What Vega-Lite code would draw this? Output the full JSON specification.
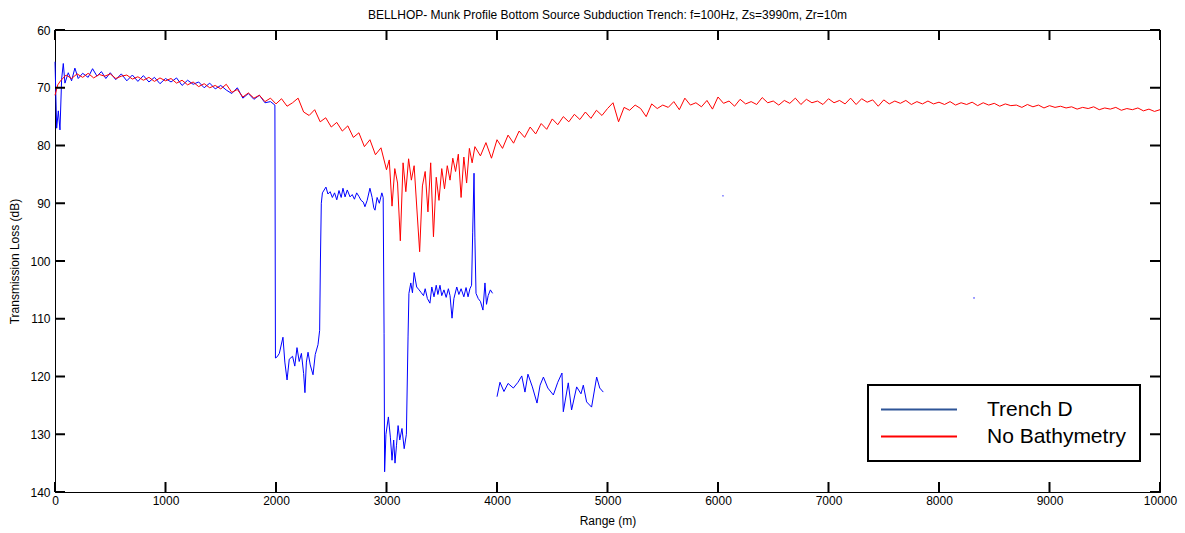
{
  "$schema": "https://vega.github.io/schema/vega-lite/v6.json",
  "width": 1105,
  "height": 462,
  "autosize": "none",
  "padding": {"left": 55, "top": 30, "right": 25, "bottom": 41},
  "background": "white",
  "title": {
    "text": "BELLHOP- Munk Profile Bottom Source Subduction Trench: f=100Hz, Zs=3990m, Zr=10m",
    "fontSize": 12, "fontWeight": "normal", "color": "#000", "offset": 2, "anchor": "middle"
  },
  "config": {
    "font": "Liberation Sans",
    "view": {"stroke": "#000", "strokeWidth": 1},
    "axis": {
      "domainColor": "#000", "labelColor": "#000", "titleColor": "#000",
      "labelFontSize": 12, "titleFontSize": 12, "titleFontWeight": "normal",
      "labelFlush": false, "labelOverlap": false, "ticks": false, "grid": false
    }
  },
  "datasets": {
    "xTicks": [
      {"range": 0}, {"range": 1000}, {"range": 2000}, {"range": 3000}, {"range": 4000}, {"range": 5000},
      {"range": 6000}, {"range": 7000}, {"range": 8000}, {"range": 9000}, {"range": 10000}
    ],
    "yTicks": [
      {"loss": 60}, {"loss": 70}, {"loss": 80}, {"loss": 90}, {"loss": 100}, {"loss": 110}, {"loss": 120}, {"loss": 130}, {"loss": 140}
    ],
    "trench": [
      {"segment": 1, "range": 0, "loss": 65.5}, {"segment": 1, "range": 15, "loss": 77.0}, {"segment": 1, "range": 30, "loss": 74.0},
      {"segment": 1, "range": 45, "loss": 77.3}, {"segment": 1, "range": 60, "loss": 68.5}, {"segment": 1, "range": 75, "loss": 65.8},
      {"segment": 1, "range": 90, "loss": 69.2}, {"segment": 1, "range": 120, "loss": 67.4}, {"segment": 1, "range": 150, "loss": 68.8},
      {"segment": 1, "range": 180, "loss": 66.6}, {"segment": 1, "range": 210, "loss": 68.4}, {"segment": 1, "range": 250, "loss": 67.5},
      {"segment": 1, "range": 300, "loss": 68.2}, {"segment": 1, "range": 340, "loss": 66.7}, {"segment": 1, "range": 380, "loss": 68.0},
      {"segment": 1, "range": 420, "loss": 67.2}, {"segment": 1, "range": 460, "loss": 68.4}, {"segment": 1, "range": 500, "loss": 67.4},
      {"segment": 1, "range": 550, "loss": 68.6}, {"segment": 1, "range": 600, "loss": 67.6}, {"segment": 1, "range": 650, "loss": 68.8},
      {"segment": 1, "range": 700, "loss": 67.8}, {"segment": 1, "range": 750, "loss": 68.9}, {"segment": 1, "range": 800, "loss": 67.9},
      {"segment": 1, "range": 850, "loss": 69.0}, {"segment": 1, "range": 900, "loss": 68.2}, {"segment": 1, "range": 950, "loss": 69.3},
      {"segment": 1, "range": 1000, "loss": 68.4}, {"segment": 1, "range": 1050, "loss": 69.0}, {"segment": 1, "range": 1100, "loss": 68.3},
      {"segment": 1, "range": 1150, "loss": 69.6}, {"segment": 1, "range": 1200, "loss": 68.7}, {"segment": 1, "range": 1250, "loss": 69.4},
      {"segment": 1, "range": 1300, "loss": 69.0}, {"segment": 1, "range": 1350, "loss": 70.0}, {"segment": 1, "range": 1400, "loss": 69.2},
      {"segment": 1, "range": 1450, "loss": 70.2}, {"segment": 1, "range": 1500, "loss": 69.6}, {"segment": 1, "range": 1550, "loss": 70.4},
      {"segment": 1, "range": 1600, "loss": 71.0}, {"segment": 1, "range": 1650, "loss": 70.0}, {"segment": 1, "range": 1700, "loss": 71.8},
      {"segment": 1, "range": 1750, "loss": 71.0}, {"segment": 1, "range": 1800, "loss": 72.0}, {"segment": 1, "range": 1850, "loss": 71.3},
      {"segment": 1, "range": 1900, "loss": 72.6}, {"segment": 1, "range": 1950, "loss": 72.4}, {"segment": 1, "range": 1990, "loss": 73.0},
      {"segment": 1, "range": 1995, "loss": 116.8}, {"segment": 1, "range": 2010, "loss": 116.6}, {"segment": 1, "range": 2030, "loss": 116.0},
      {"segment": 1, "range": 2063, "loss": 113.2}, {"segment": 1, "range": 2080, "loss": 117.5}, {"segment": 1, "range": 2100, "loss": 120.6},
      {"segment": 1, "range": 2120, "loss": 117.0}, {"segment": 1, "range": 2150, "loss": 116.5}, {"segment": 1, "range": 2170, "loss": 118.2},
      {"segment": 1, "range": 2190, "loss": 115.0}, {"segment": 1, "range": 2210, "loss": 117.4}, {"segment": 1, "range": 2230, "loss": 116.0},
      {"segment": 1, "range": 2250, "loss": 119.5}, {"segment": 1, "range": 2262, "loss": 122.8}, {"segment": 1, "range": 2275, "loss": 117.5},
      {"segment": 1, "range": 2290, "loss": 115.8}, {"segment": 1, "range": 2310, "loss": 118.0}, {"segment": 1, "range": 2335, "loss": 119.7},
      {"segment": 1, "range": 2355, "loss": 116.2}, {"segment": 1, "range": 2380, "loss": 114.5}, {"segment": 1, "range": 2395, "loss": 112.0},
      {"segment": 1, "range": 2402, "loss": 100.0}, {"segment": 1, "range": 2410, "loss": 90.0}, {"segment": 1, "range": 2420, "loss": 88.2},
      {"segment": 1, "range": 2452, "loss": 87.2}, {"segment": 1, "range": 2470, "loss": 88.4}, {"segment": 1, "range": 2490, "loss": 88.0},
      {"segment": 1, "range": 2510, "loss": 89.0}, {"segment": 1, "range": 2530, "loss": 88.2}, {"segment": 1, "range": 2550, "loss": 89.4},
      {"segment": 1, "range": 2570, "loss": 87.8}, {"segment": 1, "range": 2590, "loss": 89.0}, {"segment": 1, "range": 2606, "loss": 87.4},
      {"segment": 1, "range": 2625, "loss": 88.9}, {"segment": 1, "range": 2645, "loss": 87.7}, {"segment": 1, "range": 2670, "loss": 88.9},
      {"segment": 1, "range": 2690, "loss": 88.5}, {"segment": 1, "range": 2710, "loss": 89.3}, {"segment": 1, "range": 2730, "loss": 88.2},
      {"segment": 1, "range": 2750, "loss": 88.8}, {"segment": 1, "range": 2770, "loss": 89.5}, {"segment": 1, "range": 2790, "loss": 89.8},
      {"segment": 1, "range": 2805, "loss": 90.6}, {"segment": 1, "range": 2825, "loss": 89.5}, {"segment": 1, "range": 2850, "loss": 87.4},
      {"segment": 1, "range": 2870, "loss": 89.0}, {"segment": 1, "range": 2885, "loss": 90.8}, {"segment": 1, "range": 2896, "loss": 91.2},
      {"segment": 1, "range": 2915, "loss": 89.0}, {"segment": 1, "range": 2935, "loss": 90.0}, {"segment": 1, "range": 2958, "loss": 88.2},
      {"segment": 1, "range": 2970, "loss": 89.0}, {"segment": 1, "range": 2978, "loss": 112.5}, {"segment": 1, "range": 2983, "loss": 136.5},
      {"segment": 1, "range": 2995, "loss": 130.0}, {"segment": 1, "range": 3017, "loss": 127.0}, {"segment": 1, "range": 3035, "loss": 130.5},
      {"segment": 1, "range": 3050, "loss": 134.5}, {"segment": 1, "range": 3065, "loss": 131.0}, {"segment": 1, "range": 3077, "loss": 135.0},
      {"segment": 1, "range": 3090, "loss": 132.0}, {"segment": 1, "range": 3105, "loss": 128.5}, {"segment": 1, "range": 3120, "loss": 131.0},
      {"segment": 1, "range": 3140, "loss": 129.0}, {"segment": 1, "range": 3160, "loss": 132.5}, {"segment": 1, "range": 3180, "loss": 130.0},
      {"segment": 1, "range": 3195, "loss": 113.0}, {"segment": 1, "range": 3203, "loss": 105.6}, {"segment": 1, "range": 3220, "loss": 103.8},
      {"segment": 1, "range": 3235, "loss": 105.5}, {"segment": 1, "range": 3250, "loss": 102.0}, {"segment": 1, "range": 3273, "loss": 104.5},
      {"segment": 1, "range": 3295, "loss": 105.0}, {"segment": 1, "range": 3315, "loss": 105.5}, {"segment": 1, "range": 3335, "loss": 106.0},
      {"segment": 1, "range": 3350, "loss": 104.8}, {"segment": 1, "range": 3370, "loss": 106.5}, {"segment": 1, "range": 3393, "loss": 107.3},
      {"segment": 1, "range": 3410, "loss": 104.5}, {"segment": 1, "range": 3430, "loss": 106.2}, {"segment": 1, "range": 3450, "loss": 104.2},
      {"segment": 1, "range": 3465, "loss": 105.8}, {"segment": 1, "range": 3484, "loss": 104.2}, {"segment": 1, "range": 3500, "loss": 106.0},
      {"segment": 1, "range": 3520, "loss": 105.0}, {"segment": 1, "range": 3540, "loss": 106.3}, {"segment": 1, "range": 3560, "loss": 104.8},
      {"segment": 1, "range": 3575, "loss": 106.0}, {"segment": 1, "range": 3593, "loss": 109.9}, {"segment": 1, "range": 3610, "loss": 106.5},
      {"segment": 1, "range": 3636, "loss": 104.5}, {"segment": 1, "range": 3655, "loss": 105.8}, {"segment": 1, "range": 3675, "loss": 104.8},
      {"segment": 1, "range": 3700, "loss": 106.2}, {"segment": 1, "range": 3720, "loss": 104.6}, {"segment": 1, "range": 3738, "loss": 106.2},
      {"segment": 1, "range": 3755, "loss": 104.8}, {"segment": 1, "range": 3770, "loss": 104.2}, {"segment": 1, "range": 3780, "loss": 95.0},
      {"segment": 1, "range": 3792, "loss": 84.8}, {"segment": 1, "range": 3800, "loss": 96.0}, {"segment": 1, "range": 3810, "loss": 105.6},
      {"segment": 1, "range": 3830, "loss": 106.5}, {"segment": 1, "range": 3850, "loss": 107.0}, {"segment": 1, "range": 3873, "loss": 108.5},
      {"segment": 1, "range": 3891, "loss": 103.8}, {"segment": 1, "range": 3905, "loss": 107.5}, {"segment": 1, "range": 3920, "loss": 106.0},
      {"segment": 1, "range": 3940, "loss": 105.0}, {"segment": 1, "range": 3960, "loss": 105.6},
      {"segment": 2, "range": 4000, "loss": 123.5}, {"segment": 2, "range": 4027, "loss": 121.0}, {"segment": 2, "range": 4063, "loss": 122.6},
      {"segment": 2, "range": 4100, "loss": 121.2}, {"segment": 2, "range": 4148, "loss": 122.0}, {"segment": 2, "range": 4190, "loss": 121.0},
      {"segment": 2, "range": 4224, "loss": 119.9}, {"segment": 2, "range": 4253, "loss": 122.7}, {"segment": 2, "range": 4280, "loss": 119.6},
      {"segment": 2, "range": 4320, "loss": 121.8}, {"segment": 2, "range": 4362, "loss": 124.6}, {"segment": 2, "range": 4390, "loss": 121.5},
      {"segment": 2, "range": 4420, "loss": 120.1}, {"segment": 2, "range": 4460, "loss": 122.0}, {"segment": 2, "range": 4510, "loss": 123.2},
      {"segment": 2, "range": 4550, "loss": 121.0}, {"segment": 2, "range": 4588, "loss": 119.4}, {"segment": 2, "range": 4600, "loss": 126.1},
      {"segment": 2, "range": 4645, "loss": 121.1}, {"segment": 2, "range": 4675, "loss": 125.8}, {"segment": 2, "range": 4721, "loss": 121.8},
      {"segment": 2, "range": 4760, "loss": 123.0}, {"segment": 2, "range": 4781, "loss": 121.5}, {"segment": 2, "range": 4811, "loss": 124.4},
      {"segment": 2, "range": 4856, "loss": 125.3}, {"segment": 2, "range": 4902, "loss": 120.1}, {"segment": 2, "range": 4930, "loss": 122.0},
      {"segment": 2, "range": 4962, "loss": 122.7}
    ],
    "trenchDots": [
      {"range": 6045, "loss": 88.7}, {"range": 8317, "loss": 106.4}
    ],
    "flat": [
      {"range": 0, "loss": 71.3}, {"range": 25, "loss": 69.5}, {"range": 50, "loss": 68.8}, {"range": 100, "loss": 67.8},
      {"range": 150, "loss": 68.4}, {"range": 200, "loss": 67.6}, {"range": 250, "loss": 68.2}, {"range": 300, "loss": 67.5},
      {"range": 350, "loss": 68.3}, {"range": 400, "loss": 67.7}, {"range": 450, "loss": 68.0}, {"range": 500, "loss": 67.6},
      {"range": 550, "loss": 68.4}, {"range": 600, "loss": 68.0}, {"range": 650, "loss": 67.8}, {"range": 700, "loss": 68.5},
      {"range": 750, "loss": 68.1}, {"range": 800, "loss": 68.7}, {"range": 850, "loss": 68.2}, {"range": 900, "loss": 68.9},
      {"range": 950, "loss": 68.3}, {"range": 1000, "loss": 68.8}, {"range": 1050, "loss": 68.4}, {"range": 1100, "loss": 69.2},
      {"range": 1150, "loss": 68.7}, {"range": 1200, "loss": 69.5}, {"range": 1250, "loss": 69.0}, {"range": 1300, "loss": 69.8},
      {"range": 1350, "loss": 69.3}, {"range": 1400, "loss": 70.0}, {"range": 1450, "loss": 69.6}, {"range": 1500, "loss": 70.2},
      {"range": 1550, "loss": 69.4}, {"range": 1600, "loss": 70.8}, {"range": 1650, "loss": 70.3}, {"range": 1700, "loss": 71.6},
      {"range": 1750, "loss": 70.9}, {"range": 1800, "loss": 71.8}, {"range": 1850, "loss": 71.3}, {"range": 1900, "loss": 72.4},
      {"range": 1950, "loss": 71.8}, {"range": 2000, "loss": 72.8}, {"range": 2050, "loss": 71.9}, {"range": 2100, "loss": 73.2},
      {"range": 2150, "loss": 72.6}, {"range": 2200, "loss": 71.8}, {"range": 2250, "loss": 74.2}, {"range": 2300, "loss": 74.8},
      {"range": 2350, "loss": 73.8}, {"range": 2400, "loss": 75.9}, {"range": 2450, "loss": 75.2}, {"range": 2500, "loss": 76.8},
      {"range": 2550, "loss": 76.0}, {"range": 2600, "loss": 77.5}, {"range": 2650, "loss": 76.6}, {"range": 2700, "loss": 78.6},
      {"range": 2750, "loss": 77.8}, {"range": 2800, "loss": 80.2}, {"range": 2850, "loss": 79.0}, {"range": 2900, "loss": 81.6},
      {"range": 2950, "loss": 80.4}, {"range": 3000, "loss": 84.2}, {"range": 3025, "loss": 82.5}, {"range": 3050, "loss": 90.5},
      {"range": 3075, "loss": 84.0}, {"range": 3100, "loss": 86.5}, {"range": 3125, "loss": 96.5}, {"range": 3150, "loss": 83.0},
      {"range": 3175, "loss": 88.0}, {"range": 3200, "loss": 82.3}, {"range": 3225, "loss": 86.0}, {"range": 3250, "loss": 83.5},
      {"range": 3275, "loss": 91.0}, {"range": 3300, "loss": 98.4}, {"range": 3325, "loss": 87.0}, {"range": 3350, "loss": 84.5},
      {"range": 3375, "loss": 91.5}, {"range": 3400, "loss": 83.0}, {"range": 3425, "loss": 95.8}, {"range": 3450, "loss": 85.5},
      {"range": 3475, "loss": 89.5}, {"range": 3500, "loss": 84.0}, {"range": 3525, "loss": 87.5}, {"range": 3550, "loss": 83.5},
      {"range": 3575, "loss": 86.0}, {"range": 3600, "loss": 82.2}, {"range": 3625, "loss": 84.5}, {"range": 3650, "loss": 81.5},
      {"range": 3675, "loss": 89.0}, {"range": 3700, "loss": 82.0}, {"range": 3725, "loss": 86.5}, {"range": 3750, "loss": 80.5},
      {"range": 3775, "loss": 83.0}, {"range": 3800, "loss": 80.2}, {"range": 3850, "loss": 81.8}, {"range": 3900, "loss": 79.5},
      {"range": 3950, "loss": 82.2}, {"range": 4000, "loss": 79.0}, {"range": 4050, "loss": 80.5}, {"range": 4100, "loss": 78.2},
      {"range": 4150, "loss": 79.6}, {"range": 4200, "loss": 77.5}, {"range": 4250, "loss": 78.6}, {"range": 4300, "loss": 76.8},
      {"range": 4350, "loss": 78.0}, {"range": 4400, "loss": 76.2}, {"range": 4450, "loss": 77.2}, {"range": 4500, "loss": 75.4},
      {"range": 4550, "loss": 76.4}, {"range": 4600, "loss": 75.0}, {"range": 4650, "loss": 75.9}, {"range": 4700, "loss": 74.6},
      {"range": 4750, "loss": 75.5}, {"range": 4800, "loss": 74.2}, {"range": 4850, "loss": 75.3}, {"range": 4900, "loss": 73.9},
      {"range": 4950, "loss": 74.8}, {"range": 5000, "loss": 73.6}, {"range": 5050, "loss": 72.6}, {"range": 5100, "loss": 75.9},
      {"range": 5150, "loss": 73.4}, {"range": 5200, "loss": 73.9}, {"range": 5250, "loss": 73.0}, {"range": 5300, "loss": 73.6},
      {"range": 5350, "loss": 75.0}, {"range": 5400, "loss": 72.8}, {"range": 5450, "loss": 73.6}, {"range": 5500, "loss": 73.0},
      {"range": 5550, "loss": 73.4}, {"range": 5600, "loss": 72.4}, {"range": 5650, "loss": 73.8}, {"range": 5700, "loss": 71.8},
      {"range": 5750, "loss": 73.0}, {"range": 5800, "loss": 72.6}, {"range": 5850, "loss": 73.3}, {"range": 5900, "loss": 72.2},
      {"range": 5950, "loss": 73.7}, {"range": 6000, "loss": 71.6}, {"range": 6050, "loss": 72.7}, {"range": 6100, "loss": 72.3},
      {"range": 6150, "loss": 73.2}, {"range": 6200, "loss": 72.0}, {"range": 6250, "loss": 72.8}, {"range": 6300, "loss": 72.4},
      {"range": 6350, "loss": 72.9}, {"range": 6400, "loss": 71.7}, {"range": 6450, "loss": 72.6}, {"range": 6500, "loss": 72.3},
      {"range": 6550, "loss": 73.0}, {"range": 6600, "loss": 72.2}, {"range": 6650, "loss": 72.7}, {"range": 6700, "loss": 71.8},
      {"range": 6750, "loss": 72.9}, {"range": 6800, "loss": 72.0}, {"range": 6850, "loss": 72.6}, {"range": 6900, "loss": 72.3},
      {"range": 6950, "loss": 72.9}, {"range": 7000, "loss": 71.9}, {"range": 7050, "loss": 72.6}, {"range": 7100, "loss": 72.2},
      {"range": 7150, "loss": 72.8}, {"range": 7200, "loss": 71.8}, {"range": 7250, "loss": 72.9}, {"range": 7300, "loss": 71.9},
      {"range": 7350, "loss": 72.5}, {"range": 7400, "loss": 72.1}, {"range": 7450, "loss": 73.2}, {"range": 7500, "loss": 72.1},
      {"range": 7550, "loss": 72.8}, {"range": 7600, "loss": 72.3}, {"range": 7650, "loss": 72.7}, {"range": 7700, "loss": 72.2},
      {"range": 7750, "loss": 72.9}, {"range": 7800, "loss": 72.4}, {"range": 7850, "loss": 72.8}, {"range": 7900, "loss": 72.3},
      {"range": 7950, "loss": 72.8}, {"range": 8000, "loss": 72.5}, {"range": 8050, "loss": 72.9}, {"range": 8100, "loss": 72.4},
      {"range": 8150, "loss": 73.0}, {"range": 8200, "loss": 72.6}, {"range": 8250, "loss": 72.9}, {"range": 8300, "loss": 72.5},
      {"range": 8350, "loss": 73.1}, {"range": 8400, "loss": 72.6}, {"range": 8450, "loss": 73.0}, {"range": 8500, "loss": 72.7},
      {"range": 8550, "loss": 73.2}, {"range": 8600, "loss": 72.8}, {"range": 8650, "loss": 73.1}, {"range": 8700, "loss": 73.0},
      {"range": 8750, "loss": 73.4}, {"range": 8800, "loss": 72.9}, {"range": 8850, "loss": 73.3}, {"range": 8900, "loss": 73.0},
      {"range": 8950, "loss": 73.5}, {"range": 9000, "loss": 73.1}, {"range": 9050, "loss": 73.4}, {"range": 9100, "loss": 73.2},
      {"range": 9150, "loss": 73.5}, {"range": 9200, "loss": 73.3}, {"range": 9250, "loss": 73.7}, {"range": 9300, "loss": 73.4},
      {"range": 9350, "loss": 73.6}, {"range": 9400, "loss": 73.3}, {"range": 9450, "loss": 73.8}, {"range": 9500, "loss": 73.5},
      {"range": 9550, "loss": 73.7}, {"range": 9600, "loss": 73.4}, {"range": 9650, "loss": 73.9}, {"range": 9700, "loss": 73.6},
      {"range": 9750, "loss": 73.8}, {"range": 9800, "loss": 73.5}, {"range": 9850, "loss": 74.0}, {"range": 9900, "loss": 73.7},
      {"range": 9950, "loss": 74.1}, {"range": 10000, "loss": 73.8}
    ]
  },
  "layer": [
    {
      "data": {"name": "trench"},
      "mark": {"type": "line", "strokeWidth": 1, "stroke": "#0000ff", "interpolate": "linear"},
      "encoding": {
        "x": {"field": "range", "type": "quantitative", "scale": {"domain": [0, 10000], "nice": false},
              "axis": {"orient": "bottom", "values": [0,1000,2000,3000,4000,5000,6000,7000,8000,9000,10000], "format": "d",
                       "labelPadding": 3, "title": "Range (m)", "titlePadding": 9}},
        "y": {"field": "loss", "type": "quantitative", "scale": {"domain": [60, 140], "nice": false, "reverse": true, "zero": false},
              "axis": {"orient": "left", "values": [60,70,80,90,100,110,120,130,140], "format": "d",
                       "labelPadding": 5, "title": "Transmission Loss (dB)", "titlePadding": 8}},
        "detail": {"field": "segment", "type": "nominal"}
      }
    },
    {
      "data": {"name": "trenchDots"},
      "mark": {"type": "point", "filled": true, "size": 3, "opacity": 0.6, "color": "#0000ff"},
      "encoding": {
        "x": {"field": "range", "type": "quantitative"},
        "y": {"field": "loss", "type": "quantitative"}
      }
    },
    {
      "data": {"name": "flat"},
      "mark": {"type": "line", "strokeWidth": 1, "interpolate": "linear"},
      "encoding": {
        "x": {"field": "range", "type": "quantitative"},
        "y": {"field": "loss", "type": "quantitative"},
        "color": {"datum": "No Bathymetry", "type": "nominal",
          "scale": {"domain": ["Trench D", "No Bathymetry"], "range": ["#2e5597", "#ff0000"]},
          "legend": {
            "title": null, "orient": "none", "legendX": 813, "legendY": 355,
            "symbolType": "M-4,0H4", "symbolSize": 361, "symbolOffset": 26.5, "symbolStrokeWidth": 2,
            "labelFontSize": 21, "labelColor": "#000", "labelOffset": 57.5, "labelLimit": 300,
            "padding": 14, "rowPadding": 5, "strokeColor": "#000", "fillColor": "#fff",
            "encode": {"legend": {"update": {"strokeWidth": {"value": 2}}}}
          }}
      }
    },
    {
      "data": {"name": "xTicks"},
      "mark": {"type": "tick", "orient": "vertical", "size": 10, "thickness": 2, "color": "#000", "opacity": 1},
      "encoding": {
        "x": {"field": "range", "type": "quantitative"},
        "y": {"datum": 139.134, "type": "quantitative"}
      }
    },
    {
      "data": {"name": "xTicks"},
      "mark": {"type": "tick", "orient": "vertical", "size": 10, "thickness": 2, "color": "#000", "opacity": 1},
      "encoding": {
        "x": {"field": "range", "type": "quantitative"},
        "y": {"datum": 60.866, "type": "quantitative"}
      }
    },
    {
      "data": {"name": "yTicks"},
      "mark": {"type": "tick", "orient": "horizontal", "size": 10, "thickness": 2, "color": "#000", "opacity": 1},
      "encoding": {
        "x": {"datum": 45.25, "type": "quantitative"},
        "y": {"field": "loss", "type": "quantitative"}
      }
    },
    {
      "data": {"name": "yTicks"},
      "mark": {"type": "tick", "orient": "horizontal", "size": 10, "thickness": 2, "color": "#000", "opacity": 1},
      "encoding": {
        "x": {"datum": 9954.75, "type": "quantitative"},
        "y": {"field": "loss", "type": "quantitative"}
      }
    }
  ]
}
